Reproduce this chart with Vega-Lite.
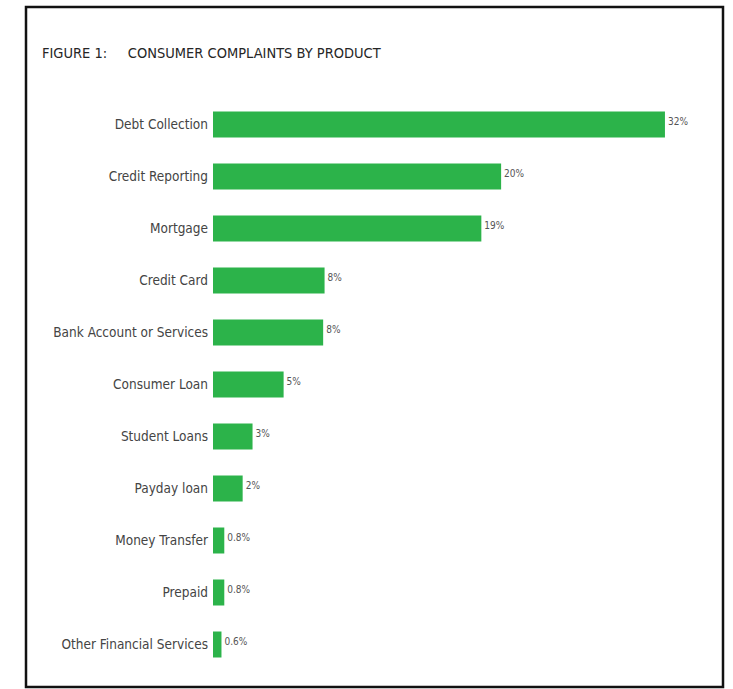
{
  "$schema": "https://vega.github.io/schema/vega-lite/v6.json",
  "autosize": "none",
  "padding": {"left": 26, "top": 7, "right": 10, "bottom": 2},
  "width": 697,
  "height": 680,
  "background": "white",
  "title": {
    "text": "FIGURE 1:\u00a0\u00a0\u00a0\u00a0\u00a0CONSUMER COMPLAINTS BY PRODUCT",
    "anchor": "start",
    "frame": "group",
    "orient": "top",
    "offset": -65,
    "dx": 16,
    "baseline": "alphabetic",
    "font": "DejaVu Sans Condensed, sans-serif",
    "fontSize": 14.5,
    "fontWeight": "normal",
    "color": "#262626"
  },
  "data": {
    "values": [
      {"product": "Debt Collection", "share": 32, "label": "32%"},
      {"product": "Credit Reporting", "share": 20.4, "label": "20%"},
      {"product": "Mortgage", "share": 19, "label": "19%"},
      {"product": "Credit Card", "share": 7.9, "label": "8%"},
      {"product": "Bank Account or Services", "share": 7.8, "label": "8%"},
      {"product": "Consumer Loan", "share": 5, "label": "5%"},
      {"product": "Student Loans", "share": 2.8, "label": "3%"},
      {"product": "Payday loan", "share": 2.1, "label": "2%"},
      {"product": "Money Transfer", "share": 0.8, "label": "0.8%"},
      {"product": "Prepaid", "share": 0.8, "label": "0.8%"},
      {"product": "Other Financial Services", "share": 0.6, "label": "0.6%"}
    ]
  },
  "encoding": {
    "y": {
      "field": "product",
      "type": "nominal",
      "sort": null,
      "axis": null,
      "scale": {"paddingInner": 0.5, "paddingOuter": 0.25, "align": 0.5, "range": [91.5, 663.5]}
    }
  },
  "layer": [
    {
      "mark": {"type": "bar", "color": "#2cb34a"},
      "encoding": {
        "x": {"field": "share", "type": "quantitative", "axis": null,
              "scale": {"domain": [-13.24, 36.11], "nice": false, "zero": false}}
      }
    },
    {
      "mark": {"type": "text", "align": "left", "baseline": "alphabetic", "dx": 3, "dy": 0,
               "font": "DejaVu Sans Condensed, sans-serif", "fontSize": 10, "color": "#555555"},
      "encoding": {
        "x": {"field": "share", "type": "quantitative"},
        "text": {"field": "label"}
      }
    },
    {
      "mark": {"type": "text", "align": "right", "baseline": "middle", "dx": -5,
               "font": "DejaVu Sans Condensed, sans-serif", "fontSize": 13.5, "color": "#444444"},
      "encoding": {
        "x": {"datum": 0, "type": "quantitative"},
        "text": {"field": "product"}
      }
    }
  ],
  "config": {
    "view": {"stroke": "#111111", "strokeWidth": 2.5}
  }
}
